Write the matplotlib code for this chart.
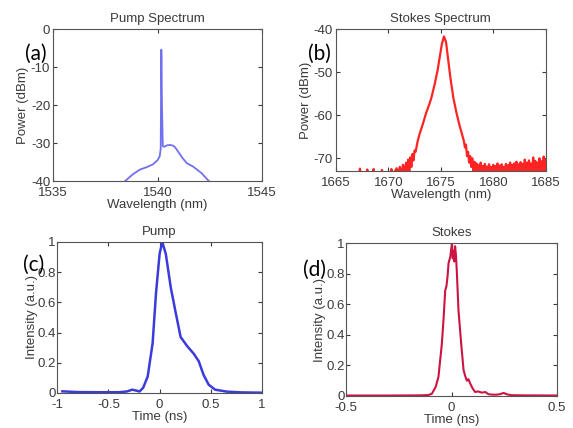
import matplotlib
matplotlib.use("Agg")
import matplotlib.pyplot as plt

plt.rcParams['font.family'] = ['Liberation Sans', 'DejaVu Sans']
plt.rcParams['axes.unicode_minus'] = False

# (a) pump spectrum
pump_wl = [1538.45, 1538.8, 1539.15, 1539.5, 1539.78, 1540.0, 1540.1, 1540.15,
           1540.18, 1540.21, 1540.25, 1540.3, 1540.45, 1540.6, 1540.75, 1540.85,
           1541.0, 1541.2, 1541.4, 1541.7, 1542.1, 1542.45]
pump_db = [-40, -38.3, -37.0, -36.3, -35.6, -34.5, -33.5, -31.5,
           -5.4, -20.0, -30.8, -31.0, -30.6, -30.5, -30.7, -31.2,
           -32.4, -34.0, -35.3, -36.2, -37.9, -40]

# (b) stokes spectrum
stokes_wl = [1665.0, 1667.2, 1667.3, 1667.4, 1667.9, 1668.0, 1668.1, 1668.5, 1668.6,
             1668.7, 1669.3, 1669.4, 1669.5, 1670.2, 1670.3, 1670.4, 1670.8, 1670.9,
             1671.1, 1671.2, 1671.4, 1671.5, 1671.7, 1671.8, 1671.9, 1672.0, 1672.1,
             1672.2, 1672.3, 1672.4, 1672.5, 1672.6, 1672.8, 1673.0, 1673.3, 1673.6,
             1673.9, 1674.1, 1674.4, 1674.7, 1674.9, 1675.1, 1675.3, 1675.5, 1675.7,
             1675.9, 1676.2, 1676.5, 1676.8, 1677.0, 1677.2, 1677.3, 1677.4, 1677.5,
             1677.6, 1677.7, 1677.8, 1677.9, 1678.0, 1678.1, 1678.2,
             1678.3, 1678.4, 1678.5, 1678.6, 1678.7, 1678.8, 1678.9, 1679.0, 1679.1,
             1679.2, 1679.3, 1679.4, 1679.5, 1679.6, 1679.7, 1679.8, 1679.9, 1680.0,
             1680.1, 1680.2, 1680.3, 1680.4, 1680.5, 1680.6, 1680.7, 1680.8, 1680.9,
             1681.0, 1681.1, 1681.2, 1681.3, 1681.4, 1681.5, 1681.6, 1681.7, 1681.8,
             1681.9, 1682.0, 1682.1, 1682.2, 1682.3, 1682.4, 1682.5, 1682.6, 1682.7,
             1682.8, 1682.9, 1683.0, 1683.1, 1683.2, 1683.3, 1683.4, 1683.5, 1683.6,
             1683.7, 1683.8, 1683.9, 1684.0, 1684.1, 1684.2, 1684.3, 1684.4, 1684.5,
             1684.6, 1684.7, 1684.8, 1684.9, 1685.0]
stokes_db = [-74, -74, -72.4, -74, -74, -72.6, -74, -74, -72.5,
             -74, -74, -72.7, -74, -74, -72.5, -74, -72.3, -74,
             -72.0, -74, -71.5, -73.5, -71.0, -73.5, -70.3, -73.0, -69.8,
             -72.0, -69.0, -70.5, -68.2, -68.5, -66.0, -64.2, -62.0, -59.5,
             -57.5, -56.0, -53.0, -49.5, -46.5, -43.5, -41.7, -43.0, -47.0,
             -51.0, -56.0, -59.5, -62.5, -64.2, -66.0, -67.5, -66.8, -69.5,
             -68.5, -71.0, -69.5, -72.0, -70.0, -73.0, -70.8,
             -73.2, -71.2, -73.3, -71.6, -73.2, -71.0, -73.3, -71.8, -73.2,
             -71.3, -73.3, -71.9, -73.2, -71.4, -73.3, -72.0, -73.2, -71.5,
             -73.3, -71.8, -73.2, -71.2, -73.3, -71.7, -73.2, -71.4, -73.3,
             -72.0, -73.2, -71.3, -73.3, -71.6, -73.2, -71.0, -73.3, -71.5,
             -73.2, -71.2, -73.3, -70.8, -73.2, -71.4, -73.3, -70.9, -73.2,
             -71.3, -73.3, -70.3, -73.2, -71.0, -73.3, -70.5, -73.2, -71.2,
             -73.3, -69.8, -73.2, -70.6, -73.3, -71.0, -73.2, -70.0, -73.3,
             -70.7, -73.2, -69.6, -73.3, -70.4]

# (c) pump pulse
pump_t = [-0.95, -0.8, -0.6, -0.4, -0.32, -0.267, -0.23, -0.196, -0.16, -0.116,
          -0.068, -0.035, 0.0, 0.026, 0.061, 0.109, 0.158, 0.206, 0.27, 0.334,
          0.383, 0.43, 0.48, 0.543, 0.656, 0.8, 1.0]
pump_int = [0.011, 0.006, 0.005, 0.005, 0.01, 0.022, 0.016, 0.01, 0.035, 0.11,
            0.33, 0.66, 0.92, 1.0, 0.92, 0.70, 0.53, 0.37, 0.31, 0.26,
            0.21, 0.12, 0.055, 0.022, 0.009, 0.004, 0.002]

# (d) stokes pulse
stokes_t = [-0.5, -0.3, -0.15, -0.11, -0.093, -0.075, -0.062, -0.046, -0.038, -0.03,
            -0.024, -0.019, -0.014, -0.006, 0.002, 0.006, 0.009, 0.013, 0.017, 0.021,
            0.025, 0.033, 0.046, 0.057, 0.065, 0.073, 0.08, 0.089, 0.1, 0.112,
            0.125, 0.144, 0.16, 0.175, 0.184, 0.21, 0.23, 0.247, 0.265, 0.286,
            0.35, 0.5]
stokes_int = [0.003, 0.003, 0.004, 0.006, 0.015, 0.06, 0.125, 0.34, 0.5, 0.69,
              0.72, 0.78, 0.87, 0.91, 1.0, 0.9, 0.95, 0.88, 0.98, 0.92,
              0.82, 0.56, 0.34, 0.17, 0.13, 0.10, 0.11, 0.08, 0.05, 0.026,
              0.03, 0.022, 0.026, 0.012, 0.01, 0.008, 0.012, 0.02, 0.01, 0.005,
              0.004, 0.003]

txt = '#3a3a3a'
fs = 9.5

fig = plt.figure(figsize=(5.73, 4.28), dpi=100)


def style(ax, title, xlabel, ylabel, ypad=2, ylpad=1):
    ax.set_title(title, fontsize=fs, color=txt, pad=5)
    ax.set_xlabel(xlabel, fontsize=fs, color=txt, labelpad=0)
    ax.set_ylabel(ylabel, fontsize=fs, color=txt, labelpad=ylpad)
    ax.tick_params(direction='in', length=3, top=True, right=True,
                   labelsize=fs, colors=txt)
    ax.tick_params(axis='x', pad=4)
    ax.tick_params(axis='y', pad=ypad)
    for s in ax.spines.values():
        s.set_color('#555555')


ax = fig.add_axes([0.0925, 0.577, 0.365, 0.355])
ax.plot(pump_wl, pump_db, color='#7070f0', lw=1.3)
ax.set_xlim(1535, 1545)
ax.set_ylim(-40, 0)
ax.set_xticks([1535, 1540, 1545])
ax.set_yticks([-40, -30, -20, -10, 0])
style(ax, 'Pump Spectrum', 'Wavelength (nm)', 'Power (dBm)')

ax = fig.add_axes([0.586, 0.600, 0.3665, 0.332])
ax.plot(stokes_wl, stokes_db, color='#ff2424', lw=1.6)
ax.set_xlim(1665, 1685)
ax.set_ylim(-73, -40)
ax.set_xticks([1665, 1670, 1675, 1680, 1685])
ax.set_yticks([-70, -60, -50, -40])
style(ax, 'Stokes Spectrum', 'Wavelength (nm)', 'Power (dBm)')

yt = [0, 0.2, 0.4, 0.6, 0.8, 1]
ytl = ['0', '0.2', '0.4', '0.6', '0.8', '1']

ax = fig.add_axes([0.10, 0.0818, 0.357, 0.353])
ax.plot(pump_t, pump_int, color='#3b3bdc', lw=1.8)
ax.set_xlim(-1, 1)
ax.set_ylim(0, 1)
ax.set_xticks([-1, -0.5, 0, 0.5, 1])
ax.set_xticklabels(['-1', '-0.5', '0', '0.5', '1'])
ax.set_yticks(yt)
ax.set_yticklabels(ytl)
style(ax, 'Pump', 'Time (ns)', 'Intensity (a.u.)', ypad=1, ylpad=0)

ax = fig.add_axes([0.604, 0.0748, 0.368, 0.357])
ax.plot(stokes_t, stokes_int, color='#cc1444', lw=1.5)
ax.set_xlim(-0.5, 0.5)
ax.set_ylim(0, 1)
ax.set_xticks([-0.5, 0, 0.5])
ax.set_xticklabels(['-0.5', '0', '0.5'])
ax.set_yticks(yt)
ax.set_yticklabels(ytl)
style(ax, 'Stokes', 'Time (ns)', 'Intensity (a.u.)', ypad=1, ylpad=0)

# panel letters
for lbl, x, y in [('(a)', 36, 54), ('(b)', 319, 54), ('(c)', 34, 265), ('(d)', 315, 270)]:
    fig.text(x / 573, 1 - y / 428, lbl, fontsize=15, family=['Lato', 'DejaVu Sans'],
             ha='center', va='center', color='black')

fig.savefig('out.png', dpi=100)
